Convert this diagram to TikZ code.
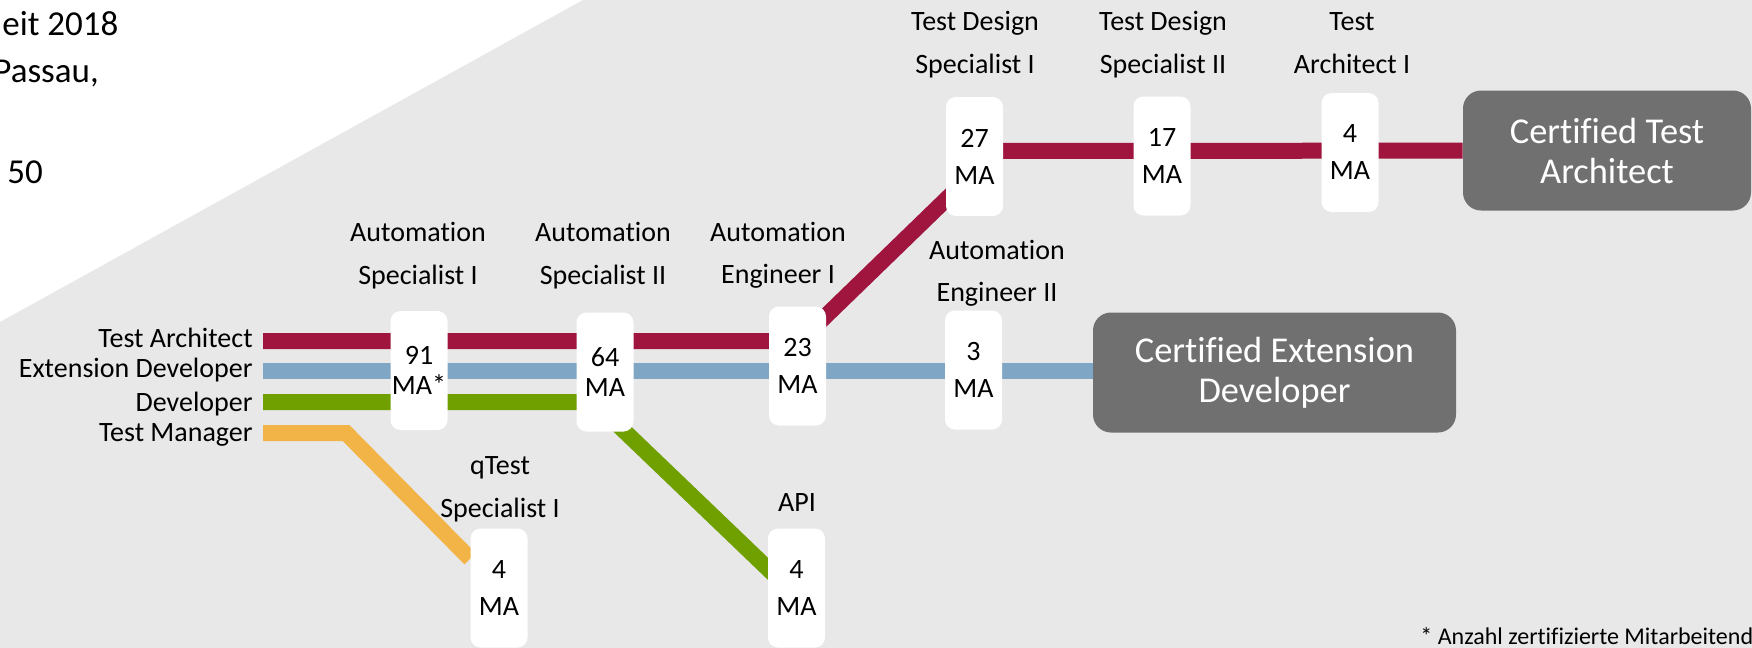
\documentclass[tikz,border=0pt]{standalone}
\usepackage{fontspec}
\setmainfont{Carlito}[Ligatures=NoCommon]
\usepackage{xcolor}
\definecolor{trackred}{HTML}{A0153E}
\definecolor{trackblue}{HTML}{7FA7C5}
\definecolor{trackgreen}{HTML}{6FA000}
\definecolor{trackorange}{HTML}{F2B447}
\definecolor{certgray}{HTML}{707070}
\definecolor{slidegray}{HTML}{E8E8E8}
\pgfdeclarelayer{bg}
\pgfdeclarelayer{tracks}
\pgfsetlayers{bg,tracks,main}
\tikzset{
	station/.style={fill=white, rounded corners=5pt, minimum width=28.5pt, minimum height=59.5pt, inner sep=0pt, align=center, font=\fontsize{14}{18.5}\selectfont},
	stationlabel/.style={align=center, inner sep=0pt, font=\fontsize{14}{21.25}\selectfont},
	linelabel/.style={anchor=base east, inner sep=0pt, font=\fontsize{14}{16}\selectfont},
	cert/.style={fill=certgray, text=white, rounded corners=9pt, minimum height=60pt, inner sep=0pt, align=center, font=\fontsize{18.2}{20}\selectfont},
	info/.style={anchor=base west, inner sep=0pt, font=\fontsize{17.5}{18}\selectfont},
	track/.style={line width=8pt}
}

\begin{document}
\begin{tikzpicture}[x=0.5pt, y=-0.5pt]
	\useasboundingbox (0,0) rectangle (1752,648);
	\begin{pgfonlayer}{bg}
		\fill[white] (0,0) rectangle (1752,648);
		\fill[slidegray] (583,0) -- (1752,0) -- (1752,648) -- (0,648) -- (0,322) -- cycle;
	\end{pgfonlayer}
	\node[info] (info1) at (2,35) {eit 2018};
	\node[info] (info2) at (-7,82) {Passau,};
	\node[info] (info3) at (7,183) {50};
	\foreach \name/\y/\ty/\role in {
		ta/347/341/Test Architect,
		ed/377/371/Extension Developer,
		dev/411/402/Developer,
		tm/441/433/Test Manager
	}
	{
		\node[linelabel] (\name) at (253,\y) {\role};
		\coordinate (s\name) at (263,\ty);
	}
	\foreach \name/\x/\y/\people/\suffix/\gap in {
		as1/419/370.5/91/MA*/-3.5pt,
		as2/605/372/64/MA/-3.5pt,
		ae1/797.5/366/23/MA/0pt,
		ae2/973.5/370/3/MA/0pt,
		tds1/974.5/156.5/27/MA/0pt,
		tds2/1162/156/17/MA/0pt,
		ta1/1350/152.5/4/MA/0pt,
		qts1/499/588/4/MA/0pt,
		api/796.5/588/4/MA/0pt
	}
	{
		\node[station] (\name) at (\x,\y) {\people\\[\gap]\suffix};
	}
	\foreach \name/\x/\y/\upper/\lower in {
		as1/418/255.5/Automation/Specialist I,
		as2/603/255.5/Automation/Specialist II,
		ae1/778/255.5/Automation/Engineer I,
		ae2/997/273.5/Automation/Engineer II,
		tds1/975/44.5/Test Design/Specialist I,
		tds2/1163/44.5/Test Design/Specialist II,
		ta1/1352/43/Test/Architect I,
		qts1/500/489.5/qTest/Specialist I
	}
	{
		\node[stationlabel] (l\name) at (\x,\y) {\upper\\\lower};
	}
	\node[stationlabel] (lapi) at (797,503) {API};
	\node[cert, minimum width=144pt] (cta) at (1607,150.5) {Certified Test\\Architect};
	\node[cert, minimum width=181.5pt] (ced) at (1274.5,372.5) {Certified Extension\\Developer};
	\node[anchor=base west, inner sep=0pt, font=\fontsize{12}{12}\selectfont] (note) at (1420,644) {* Anzahl zertifizierte Mitarbeitend};
	\begin{pgfonlayer}{tracks}
		\coordinate (rb1) at (800,341);
		\coordinate (rb2) at (996,151);
		\coordinate (gb) at (594,402);
		\coordinate (gend) at (788,588);
		\coordinate (ob) at (346,433);
		\draw[track, trackred] (sta) -- (rb1) -- (rb2) -- (cta);
		\draw[track, trackblue] (sed) -- (sed -| ced.west);
		\draw[track, trackgreen] (sdev) -- (gb) -- (gend);
		\draw[track, trackorange] (stm) -- (ob) -- (qts1);
	\end{pgfonlayer}
\end{tikzpicture}
\end{document}
